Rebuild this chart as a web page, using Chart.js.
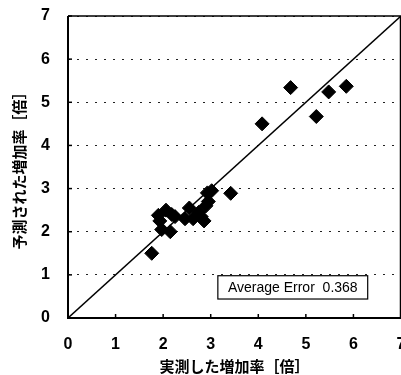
<!DOCTYPE html>
<html>
<head>
<meta charset="utf-8">
<script src="https://cdn.jsdelivr.net/npm/chart.js@4/dist/chart.umd.min.js"></script>
<style>
  html, body { margin: 0; padding: 0; background: #fff; }
  #wrap { width: 401px; height: 375px; }
</style>
</head>
<body>
<div id="wrap"><canvas id="c" width="401" height="375"></canvas></div>
<script>
// measured vs predicted increase ratio
const measured  = [1.76, 1.90, 1.93, 2.06, 1.97, 2.15, 2.18, 2.25, 2.46, 2.55, 2.63, 2.75, 2.80, 2.86, 2.90, 2.93, 3.02, 2.95, 3.42, 4.08, 4.68, 5.22, 5.48, 5.85];
const predicted = [1.50, 2.38, 2.25, 2.50, 2.05, 2.00, 2.40, 2.35, 2.30, 2.55, 2.30, 2.45, 2.35, 2.25, 2.60, 2.90, 2.95, 2.70, 2.89, 4.50, 5.34, 4.67, 5.24, 5.37];
const lineX = [0, 7];
const lineY = [0, 7];
const axisTicks = [0, 1, 2, 3, 4, 5, 6, 7];
const errorText = "Average Error  0.368";
const errorBox = { x0: 3.15, x1: 6.3, y0: 0.98, y1: 0.44 };

const tickFont = "'Liberation Sans Narrow', 'Liberation Sans', Arial, sans-serif";
const cjkFont = "'Noto Sans CJK JP', sans-serif";

// frame, inward tick marks and the error box
const extras = {
    id: "extras",
    afterDatasetsDraw(chart) {
        const ctx = chart.ctx;
        const a = chart.chartArea;
        const xs = chart.scales.x, ys = chart.scales.y;
        ctx.save();
        ctx.strokeStyle = "#000";
        ctx.lineWidth = 1.5;
        ctx.beginPath();
        ctx.moveTo(a.left, a.top);
        ctx.lineTo(a.right - 0.5, a.top);
        ctx.lineTo(a.right - 0.5, a.bottom);
        ctx.stroke();
        ctx.lineWidth = 2;
        ctx.beginPath();
        ctx.moveTo(a.left, a.top);
        ctx.lineTo(a.left, a.bottom);
        ctx.lineTo(a.right, a.bottom);
        ctx.stroke();
        ctx.lineWidth = 1.5;
        axisTicks.forEach(v => {
            const px = xs.getPixelForValue(v);
            ctx.beginPath();
            ctx.moveTo(px, a.bottom);
            ctx.lineTo(px, a.bottom - 4);
            ctx.stroke();
            const py = ys.getPixelForValue(v);
            ctx.beginPath();
            ctx.moveTo(a.left, py);
            ctx.lineTo(a.left + 4, py);
            ctx.stroke();
        });
        // error box
        const bx0 = xs.getPixelForValue(errorBox.x0), bx1 = xs.getPixelForValue(errorBox.x1);
        const by0 = ys.getPixelForValue(errorBox.y0), by1 = ys.getPixelForValue(errorBox.y1);
        ctx.fillStyle = "#fff";
        ctx.fillRect(bx0, by0, bx1 - bx0, by1 - by0);
        ctx.lineWidth = 1.2;
        ctx.strokeRect(bx0, by0, bx1 - bx0, by1 - by0);
        ctx.fillStyle = "#000";
        ctx.font = "14px 'Liberation Sans', Arial, sans-serif";
        ctx.textAlign = "center";
        ctx.textBaseline = "middle";
        ctx.fillText(errorText, (bx0 + bx1) / 2, (by0 + by1) / 2 + 1);
        ctx.restore();
    }
};

new Chart(document.getElementById("c"), {
    type: "scatter",
    data: {
        datasets: [{
            data: measured.map((x, i) => ({ x: x, y: predicted[i] })),
            pointStyle: "rectRot",
            pointRadius: 7,
            backgroundColor: "#000",
            borderColor: "#000",
            borderWidth: 1
        }, {
            type: "line",
            data: lineX.map((x, i) => ({ x: x, y: lineY[i] })),
            borderColor: "#000",
            borderWidth: 1.5,
            pointRadius: 0,
            fill: false
        }]
    },
    plugins: [extras],
    options: {
        responsive: false,
        animation: false,
        layout: { padding: { top: 16, right: 0, left: 0, bottom: 0 }, autoPadding: false },
        plugins: { legend: { display: false }, tooltip: { enabled: false } },
        scales: {
            x: {
                type: "linear", min: 0, max: 7,
                afterBuildTicks: s => { s.ticks = axisTicks.map(v => ({ value: v })); },
                afterFit: s => { s.height = 57; s.paddingRight = 0; s.paddingLeft = 0; },
                grid: { display: false, drawTicks: false },
                border: { display: false },
                ticks: { color: "#000", padding: 17, font: { family: tickFont, size: 16, weight: "bold" } },
                title: {
                    display: true, text: "実測した増加率［倍］", color: "#000",
                    padding: { top: 1, bottom: 0 },
                    font: { family: cjkFont, size: 15, weight: "bold" }
                }
            },
            y: {
                type: "linear", min: 0, max: 7,
                afterBuildTicks: s => { s.ticks = axisTicks.map(v => ({ value: v })); },
                afterFit: s => { s.width = 68; s.paddingTop = 0; s.paddingBottom = 0; },
                grid: { color: "#222", lineWidth: 1, drawTicks: false },
                border: { display: false, dash: [2, 7] },
                ticks: { color: "#000", padding: 18, font: { family: tickFont, size: 16, weight: "bold" } },
                title: {
                    display: true, text: "予測された増加率［倍］", color: "#000",
                    padding: { top: 10, bottom: 0 },
                    font: { family: cjkFont, size: 15, weight: "bold" }
                }
            }
        }
    }
});
</script>
</body>
</html>
